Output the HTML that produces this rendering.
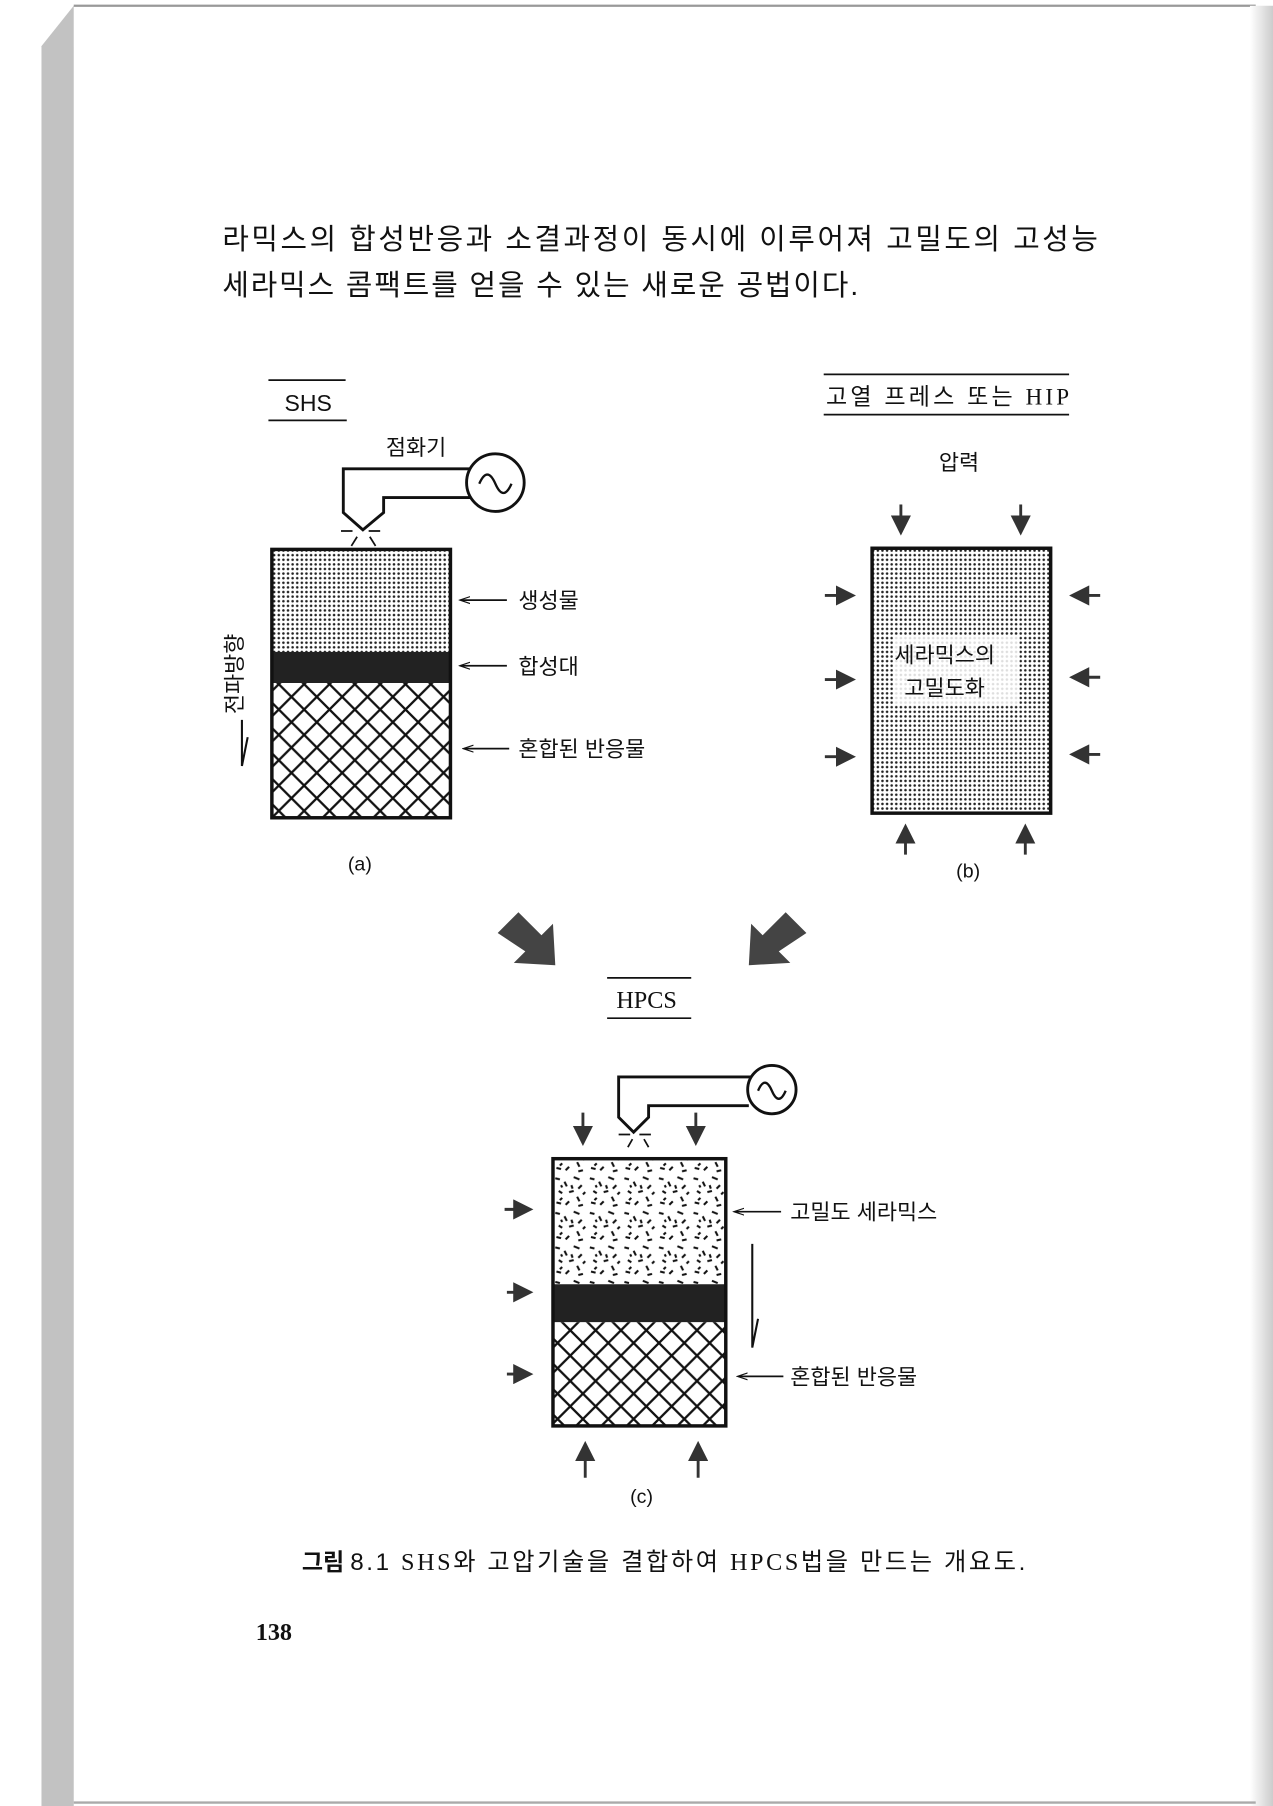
<!DOCTYPE html>
<html><head><meta charset="utf-8"><style>
html,body{margin:0;padding:0;background:#fff}
svg{display:block}
text{font-family:"Liberation Serif","Noto Serif CJK SC","Noto Sans CJK KR",serif;fill:#111}
.k{font-family:"Liberation Sans","Noto Sans CJK KR",sans-serif}
</style></head><body>
<svg width="1273" height="1806" viewBox="0 0 1105 1568" preserveAspectRatio="none" xmlns="http://www.w3.org/2000/svg">
<defs>
<pattern id="dots" width="4" height="4" patternUnits="userSpaceOnUse"><rect width="4" height="4" fill="#fff"/><circle cx="2" cy="2" r="1.1" fill="#222"/></pattern>
<pattern id="hatch" width="22" height="22" patternUnits="userSpaceOnUse"><rect width="22" height="22" fill="#fff"/><path d="M0 0L22 22M22 0L0 22" stroke="#111" stroke-width="2"/></pattern>
<pattern id="tex" width="30" height="30" patternUnits="userSpaceOnUse"><rect width="30" height="30" fill="#fff"/><path d="M2 3l4 1M10 6l2 4M18 2l5 2M25 9l-3 3M5 14l3 2M14 15l4-1M21 19l2 4M3 24l4 1M11 26l3-3M26 26l-4 1M16 9l1 3M8 20l-2 2M28 15l-2 2M7 9l1 2" stroke="#111" stroke-width="1.8"/></pattern>
<marker id="ah" markerWidth="7" markerHeight="7" refX="5" refY="3.5" orient="auto"><path d="M0 0L7 3.5L0 7z" fill="#333"/></marker>
<marker id="as" markerWidth="10" markerHeight="8" refX="8" refY="4" orient="auto" markerUnits="userSpaceOnUse"><path d="M0 1L9 4L0 7" fill="none" stroke="#111" stroke-width="1"/></marker>
<linearGradient id="rg" x1="0" x2="1"><stop offset="0" stop-color="#fff"/><stop offset="1" stop-color="#ccc"/></linearGradient>
</defs>
<rect width="1105" height="1568" fill="#fff"/>
<polygon points="36,40 64,5 64,1568 36,1568" fill="#c2c2c2"/>
<line x1="64" y1="5" x2="1090" y2="5" stroke="#999" stroke-width="2"/>
<rect x="1085" y="5" width="20" height="1563" fill="url(#rg)"/>
<line x1="64" y1="1565" x2="1090" y2="1565" stroke="#aaa" stroke-width="2"/>

<text class="k" x="193" y="216" font-size="25" textLength="760">라믹스의 합성반응과 소결과정이 동시에 이루어져 고밀도의 고성능</text>
<text class="k" x="193" y="256" font-size="25" textLength="552">세라믹스 콤팩트를 얻을 수 있는 새로운 공법이다.</text>

<!-- SHS -->
<line x1="233" y1="330" x2="300" y2="330" stroke="#111" stroke-width="1.5"/>
<line x1="233" y1="365" x2="301" y2="365" stroke="#111" stroke-width="1.5"/>
<text class="k" x="247" y="357" font-size="20">SHS</text>
<text class="k" x="335" y="395" font-size="19">점화기</text>
<path d="M415 407H298V445L315 460L333 445V432H410" fill="none" stroke="#111" stroke-width="2.5"/>
<circle cx="430" cy="419" r="25" fill="#fff" stroke="#111" stroke-width="2.5"/>
<path d="M416 420q7-16 14 0t14 0" fill="none" stroke="#111" stroke-width="2"/>
<path d="M296 461h10M320 461h10M305 474l5-8M326 474l-5-8" stroke="#111" stroke-width="1.5"/>
<rect x="236" y="477" width="155" height="90" fill="url(#dots)"/>
<rect x="236" y="566" width="155" height="27" fill="#222"/>
<rect x="236" y="593" width="155" height="117" fill="url(#hatch)"/>
<rect x="236" y="477" width="155" height="233" fill="none" stroke="#111" stroke-width="3"/>
<g stroke="#111" stroke-width="1.5" marker-end="url(#as)"><line x1="440" y1="521" x2="400" y2="521"/><line x1="440" y1="578" x2="400" y2="578"/><line x1="442" y1="650" x2="403" y2="650"/></g>
<text class="k" x="450" y="528" font-size="19">생성물</text>
<text class="k" x="450" y="585" font-size="19">합성대</text>
<text class="k" x="450" y="657" font-size="19">혼합된 반응물</text>
<text class="k" font-size="19" transform="translate(210,620) rotate(-90)">전파방향</text>
<path d="M210 625V665L215 640" fill="none" stroke="#111" stroke-width="1.8"/>
<text class="k" x="302" y="756" font-size="17">(a)</text>

<!-- HIP -->
<line x1="715" y1="325" x2="928" y2="325" stroke="#111" stroke-width="1.5"/>
<line x1="715" y1="360" x2="928" y2="360" stroke="#111" stroke-width="1.5"/>
<text class="k" x="717" y="351" font-size="20" textLength="211">고열 프레스 또는 <tspan font-family="Liberation Serif">HIP</tspan></text>
<text class="k" x="815" y="408" font-size="19">압력</text>
<rect x="757" y="476" width="155" height="230" fill="url(#dots)" stroke="#111" stroke-width="3"/>
<rect x="775" y="552" width="110" height="60" fill="#fff" opacity="0.85"/>
<text class="k" x="820" y="575" font-size="19" text-anchor="middle">세라믹스의</text>
<text class="k" x="820" y="604" font-size="19" text-anchor="middle">고밀도화</text>
<g stroke="#333" stroke-width="2.5" marker-end="url(#ah)">
<line x1="782" y1="438" x2="782" y2="460"/><line x1="886" y1="438" x2="886" y2="460"/>
<line x1="786" y1="742" x2="786" y2="720"/><line x1="890" y1="742" x2="890" y2="720"/>
<line x1="716" y1="517" x2="738" y2="517"/><line x1="716" y1="590" x2="738" y2="590"/><line x1="716" y1="657" x2="738" y2="657"/>
<line x1="955" y1="517" x2="933" y2="517"/><line x1="955" y1="588" x2="933" y2="588"/><line x1="955" y1="655" x2="933" y2="655"/>
</g>
<text class="k" x="830" y="762" font-size="17">(b)</text>

<!-- big arrows -->
<polygon points="432,810 450,792 470,812 480,802 482,838 446,836 456,826" fill="#444"/>
<polygon points="700,810 682,792 662,812 652,802 650,838 686,836 676,826" fill="#444"/>

<!-- HPCS -->
<line x1="527" y1="849" x2="600" y2="849" stroke="#111" stroke-width="1.5"/>
<line x1="527" y1="884" x2="600" y2="884" stroke="#111" stroke-width="1.5"/>
<text x="535" y="875" font-size="21">HPCS</text>
<path d="M655 935H537V970L550 983L563 970V960H650" fill="none" stroke="#111" stroke-width="2.5"/>
<circle cx="670" cy="946" r="21" fill="#fff" stroke="#111" stroke-width="2.5"/>
<path d="M658 947q6-14 12 0t12 0" fill="none" stroke="#111" stroke-width="2"/>
<path d="M537 985h10M555 985h10M545 996l4-7M563 996l-4-7" stroke="#111" stroke-width="1.5"/>
<rect x="480" y="1006" width="150" height="110" fill="url(#tex)"/>
<rect x="480" y="1115" width="150" height="33" fill="#222"/>
<rect x="480" y="1148" width="150" height="90" fill="url(#hatch)"/>
<rect x="480" y="1006" width="150" height="232" fill="none" stroke="#111" stroke-width="3"/>
<g stroke="#333" stroke-width="2.5" marker-end="url(#ah)">
<line x1="506" y1="966" x2="506" y2="990"/><line x1="604" y1="966" x2="604" y2="990"/>
<line x1="508" y1="1283" x2="508" y2="1256"/><line x1="606" y1="1283" x2="606" y2="1256"/>
<line x1="438" y1="1050" x2="458" y2="1050"/><line x1="440" y1="1122" x2="458" y2="1122"/><line x1="440" y1="1193" x2="458" y2="1193"/>
</g>
<g stroke="#111" stroke-width="1.5" marker-end="url(#as)"><line x1="678" y1="1052" x2="638" y2="1052"/><line x1="680" y1="1195" x2="641" y2="1195"/></g>
<path d="M653 1080V1170L658 1145" fill="none" stroke="#111" stroke-width="1.8"/>
<text class="k" x="686" y="1059" font-size="19">고밀도 세라믹스</text>
<text class="k" x="686" y="1202" font-size="19">혼합된 반응물</text>
<text class="k" x="547" y="1305" font-size="17">(c)</text>

<text class="k" x="262" y="1363" font-size="20" font-weight="bold">그림</text>
<text class="k" x="304" y="1363" font-size="21" textLength="586">8.1  <tspan font-family="Liberation Serif">SHS</tspan>와 고압기술을 결합하여 <tspan font-family="Liberation Serif">HPCS</tspan>법을 만드는 개요도.</text>
<text x="222" y="1424" font-size="21" font-weight="bold">138</text>
</svg>
</body></html>
